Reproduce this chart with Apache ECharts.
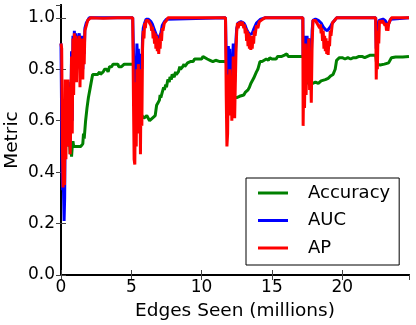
<!DOCTYPE html>
<html>
<head>
<meta charset="utf-8">
<script src="https://cdn.jsdelivr.net/npm/echarts@6/dist/echarts.min.js"></script>
<style>
html,body{margin:0;padding:0;background:#fff;}
#chart{width:416px;height:325px;}
</style>
</head>
<body>
<div id="chart"></div>
<script>
// [edges seen (millions), metric value]
const accuracyPoints = [
  [0.4,0.56],[0.45,0.52],[0.5,0.58],[0.55,0.5],[0.6,0.54],[0.65,0.47],[0.7,0.51],[0.75,0.46],[0.8,0.5],[0.85,0.52],[0.9,0.5],
  [1.0,0.5],[1.2,0.5],[1.4,0.5],[1.55,0.51],[1.6,0.55],[1.65,0.53],[1.75,0.6],[1.85,0.65],[1.95,0.69],[2.05,0.72],[2.15,0.75],
  [2.25,0.78],[2.4,0.78],[2.6,0.78],[2.75,0.79],[2.8,0.78],[3.0,0.79],[3.1,0.8],[3.25,0.8],[3.35,0.79],[3.45,0.81],[3.6,0.81],
  [3.7,0.82],[3.9,0.82],[4.05,0.82],[4.1,0.81],[4.3,0.81],[4.5,0.82],[4.7,0.82],[4.9,0.82],[5.15,0.82],[5.25,0.78],[5.35,0.74],
  [5.45,0.68],[5.55,0.65],[5.65,0.6],[5.75,0.62],[5.9,0.61],[6.1,0.62],[6.3,0.6],[6.5,0.61],[6.7,0.62],[6.8,0.66],[6.9,0.67],
  [7.0,0.68],[7.05,0.7],[7.1,0.69],[7.2,0.71],[7.3,0.73],[7.35,0.72],[7.45,0.74],[7.5,0.73],[7.6,0.76],[7.7,0.75],[7.75,0.77],
  [7.85,0.76],[7.9,0.78],[8.05,0.77],[8.15,0.79],[8.2,0.78],[8.35,0.79],[8.45,0.81],[8.5,0.8],[8.65,0.81],[8.75,0.82],[8.8,0.81],
  [9.0,0.825],[9.1,0.82],[9.2,0.83],[9.4,0.83],[9.5,0.84],[9.6,0.835],[9.8,0.84],[10.0,0.84],[10.1,0.85],[10.2,0.845],[10.4,0.84],
  [10.5,0.845],[10.6,0.835],[10.8,0.83],[11.0,0.835],[11.3,0.83],[11.6,0.83],[11.75,0.83],[11.85,0.78],[12.0,0.72],[12.2,0.69],
  [12.5,0.69],[12.7,0.695],[12.8,0.7],[13.0,0.7],[13.1,0.71],[13.2,0.705],[13.3,0.72],[13.4,0.73],[13.5,0.745],[13.6,0.75],
  [13.7,0.765],[13.8,0.77],[13.9,0.79],[14.0,0.8],[14.15,0.83],[14.3,0.83],[14.4,0.835],[14.6,0.84],[14.75,0.835],[14.85,0.845],
  [15.0,0.84],[15.1,0.845],[15.3,0.84],[15.4,0.85],[15.7,0.85],[15.9,0.855],[16.06,0.86],[16.15,0.85],[16.3,0.85],[16.6,0.85],
  [17.0,0.85],[17.25,0.85],[17.35,0.8],[17.5,0.75],[17.7,0.74],[17.9,0.745],[18.0,0.74],[18.1,0.75],[18.3,0.745],[18.5,0.755],
  [18.6,0.75],[18.8,0.76],[18.9,0.76],[19.0,0.765],[19.1,0.77],[19.2,0.775],[19.35,0.78],[19.5,0.8],[19.6,0.835],[19.8,0.845],
  [20.0,0.845],[20.2,0.84],[20.4,0.845],[20.6,0.84],[20.8,0.845],[21.0,0.845],[21.2,0.85],[21.4,0.85],[21.6,0.845],[21.8,0.85],
  [22.0,0.855],[22.2,0.855],[22.38,0.855],[22.45,0.82],[22.7,0.817],[23.0,0.82],[23.3,0.825],[23.5,0.845],[23.8,0.848],[24.3,0.848],[24.75,0.85]
];

const aucPoints = [
  [0,0.9],[0.05,0.9],[0.08,0.4],[0.12,0.33],[0.17,0.35],[0.22,0.21],[0.26,0.3],[0.3,0.6],[0.35,0.5],[0.4,0.72],[0.45,0.52],
  [0.5,0.75],[0.55,0.55],[0.6,0.74],[0.65,0.5],[0.7,0.62],[0.75,0.87],[0.8,0.6],[0.85,0.93],[0.9,0.75],[0.95,0.95],[1.0,0.85],
  [1.05,0.94],[1.1,0.8],[1.15,0.93],[1.2,0.9],[1.3,0.94],[1.35,0.8],[1.4,0.92],[1.45,0.85],[1.5,0.93],[1.55,0.8],[1.6,0.92],
  [1.65,0.86],[1.7,0.96],[1.8,0.98],[1.9,0.99],[2.0,1.0],[5.1,1.0],
  [5.15,0.88],[5.2,0.78],[5.25,0.72],[5.3,0.85],[5.35,0.78],[5.4,0.9],[5.45,0.82],[5.5,0.88],[5.55,0.8],[5.6,0.86],[5.65,0.75],
  [5.7,0.85],[5.75,0.8],[5.8,0.92],[5.85,0.96],[5.95,0.98],[6.05,0.995],[6.2,0.995],[6.3,0.99],[6.4,0.985],[6.5,0.975],[6.6,0.96],
  [6.7,0.945],[6.8,0.93],[6.9,0.915],[7.0,0.92],[7.1,0.94],[7.2,0.97],[7.35,0.985],[7.5,0.995],[7.6,1.0],[11.7,1.0],
  [11.75,0.85],[11.8,0.76],[11.85,0.8],[11.9,0.89],[11.95,0.82],[12.0,0.88],[12.05,0.78],[12.1,0.85],[12.15,0.76],[12.2,0.82],
  [12.25,0.9],[12.3,0.8],[12.35,0.75],[12.4,0.85],[12.45,0.92],[12.5,0.96],[12.6,0.98],[12.8,0.985],[13.0,0.98],[13.1,0.97],
  [13.2,0.955],[13.3,0.945],[13.4,0.935],[13.5,0.935],[13.6,0.94],[13.7,0.955],[13.9,0.98],[14.2,0.995],[14.5,1.0],[17.2,1.0],
  [17.22,0.85],[17.27,0.9],[17.32,0.8],[17.38,0.93],[17.43,0.85],[17.5,0.93],[17.55,0.88],[17.62,0.92],[17.68,0.88],[17.75,0.9],
  [17.8,0.85],[17.86,0.95],[17.92,0.99],[18.1,0.995],[18.3,0.99],[18.5,0.98],[18.65,0.965],[18.8,0.955],[18.95,0.95],[19.05,0.955],
  [19.15,0.965],[19.3,0.98],[19.45,0.99],[19.6,1.0],[22.38,1.0],
  [22.42,0.88],[22.46,0.95],[22.5,0.9],[22.55,0.97],[22.62,0.99],[22.75,0.99],[22.9,0.995],[23.05,0.99],[23.15,0.98],[23.24,0.97],
  [23.32,0.98],[23.45,0.995],[23.5,1.0],[24.75,1.0]
];

const apPoints = [
  [0,0.9],[0.05,0.88],[0.1,0.5],[0.15,0.34],[0.2,0.6],[0.25,0.35],[0.3,0.76],[0.35,0.45],[0.4,0.72],[0.45,0.5],[0.5,0.76],
  [0.55,0.55],[0.6,0.73],[0.65,0.47],[0.7,0.6],[0.75,0.85],[0.8,0.55],[0.85,0.92],[0.9,0.7],[0.95,0.94],[1.0,0.8],[1.05,0.93],
  [1.1,0.75],[1.15,0.92],[1.2,0.86],[1.3,0.93],[1.35,0.73],[1.4,0.9],[1.45,0.8],[1.5,0.92],[1.55,0.76],[1.6,0.9],[1.65,0.82],
  [1.7,0.95],[1.8,0.97],[1.9,0.99],[2.0,0.995],[2.1,1.0],[3.0,0.998],[4.0,1.0],[5.1,1.0],
  [5.15,0.7],[5.2,0.45],[5.25,0.43],[5.3,0.75],[5.35,0.5],[5.4,0.8],[5.45,0.55],[5.5,0.82],[5.55,0.6],[5.6,0.8],[5.65,0.47],
  [5.7,0.78],[5.75,0.58],[5.8,0.88],[5.85,0.95],[5.9,0.92],[5.95,0.98],[6.0,0.96],[6.05,0.99],[6.2,0.99],[6.3,0.985],[6.4,0.97],
  [6.45,0.95],[6.5,0.965],[6.55,0.92],[6.6,0.95],[6.65,0.9],[6.7,0.94],[6.75,0.88],[6.8,0.93],[6.85,0.87],[6.9,0.92],[6.95,0.86],
  [7.0,0.92],[7.05,0.88],[7.1,0.94],[7.15,0.91],[7.2,0.96],[7.25,0.95],[7.35,0.98],[7.5,0.99],[7.6,1.0],[11.7,1.0],
  [11.75,0.7],[11.8,0.5],[11.85,0.55],[11.9,0.78],[11.95,0.62],[12.0,0.8],[12.05,0.65],[12.1,0.75],[12.15,0.6],[12.2,0.7],
  [12.25,0.85],[12.3,0.7],[12.35,0.61],[12.4,0.75],[12.45,0.88],[12.5,0.95],[12.55,0.98],[12.6,0.96],[12.7,0.985],[12.8,0.97],
  [12.9,0.985],[13.0,0.96],[13.05,0.975],[13.1,0.94],[13.15,0.96],[13.2,0.91],[13.25,0.95],[13.3,0.89],[13.35,0.94],[13.4,0.88],
  [13.45,0.93],[13.5,0.875],[13.55,0.92],[13.6,0.88],[13.65,0.93],[13.7,0.9],[13.75,0.95],[13.8,0.93],[13.9,0.97],[14.0,0.96],
  [14.1,0.985],[14.2,0.98],[14.35,0.995],[14.5,1.0],[17.2,1.0],
  [17.22,0.58],[17.27,0.8],[17.32,0.65],[17.38,0.9],[17.43,0.7],[17.5,0.85],[17.55,0.75],[17.62,0.92],[17.68,0.72],[17.75,0.8],
  [17.8,0.67],[17.86,0.9],[17.92,0.99],[18.1,0.99],[18.2,0.98],[18.3,0.985],[18.4,0.96],[18.45,0.975],[18.5,0.94],[18.55,0.96],
  [18.6,0.91],[18.65,0.95],[18.7,0.88],[18.75,0.93],[18.8,0.87],[18.85,0.92],[18.9,0.86],[18.95,0.9],[19.0,0.856],[19.05,0.91],
  [19.1,0.89],[19.15,0.95],[19.2,0.93],[19.3,0.98],[19.45,0.99],[19.6,1.0],[22.38,1.0],
  [22.42,0.76],[22.46,0.92],[22.5,0.8],[22.55,0.95],[22.6,0.9],[22.65,0.99],[22.75,0.98],[22.85,0.99],[22.95,0.985],[23.05,0.97],
  [23.1,0.98],[23.15,0.95],[23.2,0.97],[23.25,0.95],[23.3,0.975],[23.4,0.99],[23.5,1.0],[24.75,1.0]
];

const seriesNames = ['Accuracy', 'AUC', 'AP'];
const xTicks = [0, 5, 10, 15, 20];
const yTicks = [0.0, 0.2, 0.4, 0.6, 0.8, 1.0];

const FONT = 'DejaVu Sans';
const chart = echarts.init(document.getElementById('chart'), null, {renderer: 'canvas'});
const axisLine = {show: true, lineStyle: {color: '#000', width: 2}};
const axisTick = {show: true, inside: true, length: 5, lineStyle: {color: '#444', width: 1}};
const xBase = {type: 'value', min: 0, max: 24.75, interval: 5, splitLine: {show: false}, axisLine, axisTick};
const yBase = {type: 'value', min: 0, max: 1.05, interval: 0.2, splitLine: {show: false}, axisLine, axisTick};

chart.setOption({
  animation: false,
  backgroundColor: '#fff',
  grid: {left: 61, right: 7, top: 5, bottom: 50, containLabel: false, outerBoundsMode: 'none'},
  xAxis: [
    Object.assign({}, xBase, {
      position: 'bottom',
      name: 'Edges Seen (millions)', nameLocation: 'middle', nameGap: 27, nameMoveOverlap: false,
      nameTextStyle: {fontFamily: FONT, fontSize: 18.5, color: '#000'},
      axisLabel: {show: true, margin: 4, showMaxLabel: false, fontFamily: FONT, fontSize: 17, color: '#000',
        formatter: v => xTicks.includes(v) ? String(v) : ''}
    }),
    Object.assign({}, xBase, {position: 'top', axisLabel: {show: false}})
  ],
  yAxis: [
    Object.assign({}, yBase, {
      position: 'left',
      name: 'Metric', nameLocation: 'middle', nameGap: 39, nameRotate: 90, nameMoveOverlap: false,
      nameTextStyle: {fontFamily: FONT, fontSize: 18.5, color: '#000'},
      axisLabel: {show: true, margin: 6, showMaxLabel: false, fontFamily: FONT, fontSize: 17, color: '#000',
        formatter: v => yTicks.some(t => Math.abs(t - v) < 1e-9) ? v.toFixed(1) : ''}
    }),
    Object.assign({}, yBase, {position: 'right', axisLabel: {show: false}})
  ],
  legend: {
    show: true, orient: 'vertical', left: 246, top: 178,
    backgroundColor: '#fff', borderColor: '#000', borderWidth: 1, borderRadius: 0,
    padding: [6, 9, 8, 12],
    itemWidth: 30, itemHeight: 18, itemGap: 9.5,
    icon: 'path://M0,8 L30,8 L30,11 L0,11 Z',
    textStyle: {fontFamily: FONT, fontSize: 18, color: '#000', padding: [0, 0, 0, 15]},
    data: seriesNames
  },
  series: [
    {name: seriesNames[0], type: 'line', data: accuracyPoints, showSymbol: false, symbol: 'none',
     lineStyle: {color: '#008000', width: 3}, itemStyle: {color: '#008000'}, z: 2},
    {name: seriesNames[1], type: 'line', data: aucPoints, showSymbol: false, symbol: 'none',
     lineStyle: {color: '#0000ff', width: 3}, itemStyle: {color: '#0000ff'}, z: 3},
    {name: seriesNames[2], type: 'line', data: apPoints, showSymbol: false, symbol: 'none',
     lineStyle: {color: '#ff0000', width: 3}, itemStyle: {color: '#ff0000'}, z: 4}
  ]
});
</script>
</body>
</html>
